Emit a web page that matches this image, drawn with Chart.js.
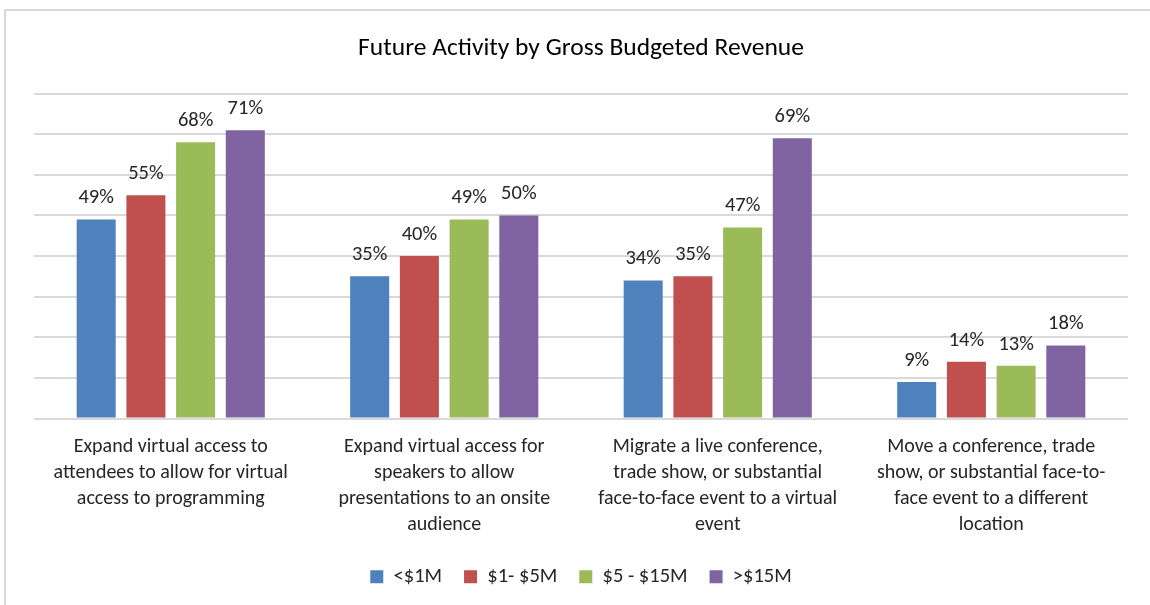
<!DOCTYPE html>
<html>
<head>
<meta charset="utf-8">
<script src="https://cdn.jsdelivr.net/npm/chart.js@4.4.0/dist/chart.umd.min.js"></script>
<style>
  body { margin: 0; background: #fff; }
  #frame { position: absolute; left: 4px; top: 9px; width: 1160px; height: 620px;
           border-left: 2px solid #d9d9d9; border-top: 2px solid #d9d9d9; }
  #wrap { position: absolute; left: 0; top: 0; width: 1150px; height: 605px; }
</style>
</head>
<body>
<div id="frame"></div>
<div id="wrap"><canvas id="myChart"></canvas></div>
<script>
var categories = [
    ['Expand virtual access to', 'attendees to allow for virtual', 'access to programming'],
    ['Expand virtual access for', 'speakers to allow', 'presentations to an onsite', 'audience'],
    ['Migrate a live conference,', 'trade show, or substantial', 'face-to-face event to a virtual', 'event'],
    ['Move a conference, trade', 'show, or substantial face-to-', 'face event to a different', 'location']
];
var seriesNames = ['<$1M', '$1- $5M', '$5 - $15M', '>$15M'];
var under1M = [49, 35, 34, 9];
var from1to5M = [55, 40, 35, 14];
var from5to15M = [68, 49, 47, 13];
var over15M = [71, 50, 69, 18];
var seriesColors = ['#4F81BD', '#C0504D', '#9BBB59', '#8064A2'];

var font = "Carlito, Lato, 'Liberation Sans', sans-serif";

// draws the percent values above each bar
var barLabels = {
    id: 'barLabels',
    afterDatasetsDraw: function (chart) {
        var c = chart.ctx;
        c.save();
        c.font = '20.5px ' + font;
        c.fillStyle = '#262626';
        c.textAlign = 'center';
        c.textBaseline = 'bottom';
        chart.data.datasets.forEach(function (ds, i) {
            chart.getDatasetMeta(i).data.forEach(function (bar, j) {
                c.fillText(ds.data[j] + '%', bar.x, bar.y - 11);
            });
        });
        c.restore();
    }
};

var ctx = document.getElementById('myChart').getContext('2d');
var myChart = new Chart(ctx, {
    type: 'bar',
    data: {
        labels: categories,
        datasets: [
            { label: seriesNames[0], data: under1M, backgroundColor: seriesColors[0] },
            { label: seriesNames[1], data: from1to5M, backgroundColor: seriesColors[1] },
            { label: seriesNames[2], data: from5to15M, backgroundColor: seriesColors[2] },
            { label: seriesNames[3], data: over15M, backgroundColor: seriesColors[3] }
        ]
    },
    options: {
        responsive: true,
        maintainAspectRatio: false,
        animation: false,
        categoryPercentage: 0.727,
        barPercentage: 0.785,
        layout: { padding: { left: 34, right: 22, top: 0, bottom: 8 } },
        plugins: {
            title: {
                display: true,
                text: 'Future Activity by Gross Budgeted Revenue',
                color: '#000',
                font: { family: font, size: 25.5, weight: 'normal' },
                padding: { top: 33, bottom: 30 }
            },
            legend: {
                position: 'bottom',
                labels: {
                    color: '#262626',
                    font: { family: font, size: 20.5 },
                    boxWidth: 13,
                    boxHeight: 13,
                    padding: 22
                }
            },
            tooltip: { enabled: false }
        },
        scales: {
            y: {
                min: 0,
                max: 80,
                ticks: { display: false, stepSize: 10 },
                grid: { color: '#d9d9d9', lineWidth: 2, drawTicks: false },
                border: { display: false }
            },
            x: {
                grid: { display: false },
                border: { display: false },
                ticks: {
                    color: '#262626',
                    font: { family: font, size: 20, lineHeight: 1.3 },
                    padding: 7,
                    maxRotation: 0,
                    autoSkip: false
                }
            }
        }
    },
    plugins: [barLabels]
});
</script>
</body>
</html>
